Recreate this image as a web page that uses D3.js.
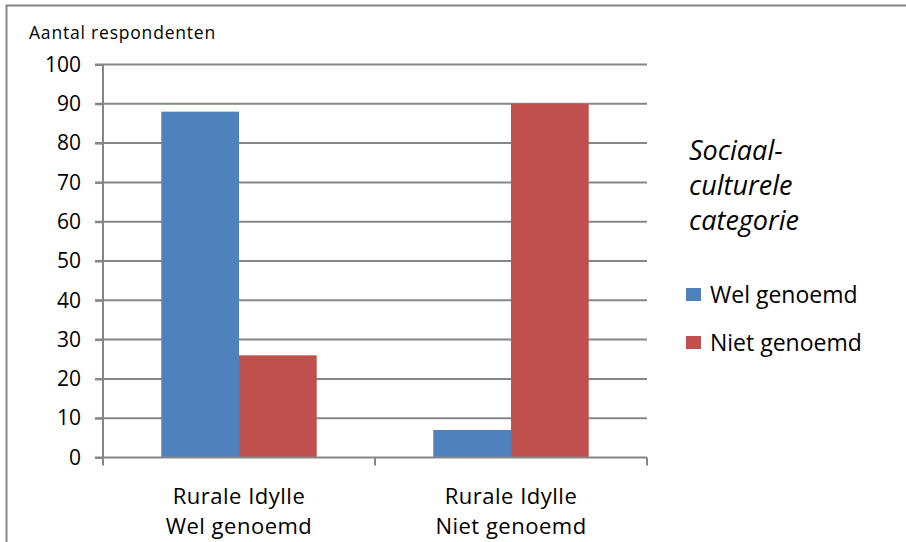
<!DOCTYPE html>
<html>
<head>
<meta charset="utf-8">
<script src="https://cdn.jsdelivr.net/npm/d3@7"></script>
<style>
  body { margin: 0; background: #fff; }
  svg { display: block; font-family: "Open Sans", "Liberation Sans", sans-serif; }
</style>
</head>
<body>
<svg width="906" height="542"></svg>
<script>
var categories = [["Rurale Idylle", "Wel genoemd"], ["Rurale Idylle", "Niet genoemd"]];
var seriesNames = ["Wel genoemd", "Niet genoemd"];
var seriesColors = ["#4f81bd", "#c0504d"];
var wel = [88, 7];
var niet = [26, 90];
var yTicks = [0, 10, 20, 30, 40, 50, 60, 70, 80, 90, 100];
var legendTitle = ["Sociaal-", "culturele", "categorie"];
var yTitle = "Aantal respondenten";

var svg = d3.select("svg");

var values = [wel, niet];
var data = categories.map(function(c, i) {
  return { cat: i, vals: values.map(function(v, s) { return { s: s, v: v[i] }; }) };
});

// outer frame
svg.append("rect")
    .attr("x", 6.5).attr("y", 5.5)
    .attr("width", 920).attr("height", 560)
    .attr("fill", "none")
    .attr("stroke", "#868686")
    .attr("stroke-width", 2);

var plotL = 103, plotR = 647, plotT = 64.5, plotB = 457.5;

var x0 = d3.scaleBand().domain(d3.range(categories.length)).range([plotL, plotR]);
var y = d3.scaleLinear().domain([0, 100]).range([plotB, plotT]);

// gap width 150% like the original
var bw = x0.bandwidth() / (seriesNames.length + 1.5);
var x1 = d3.scaleBand().domain(d3.range(seriesNames.length))
    .range([bw * 0.75, bw * 0.75 + bw * seriesNames.length]);

// gridlines
svg.append("g")
  .selectAll("line").data(yTicks.filter(function(d) { return d > 0; }))
  .enter().append("line")
    .attr("x1", plotL - 8).attr("x2", plotR)
    .attr("y1", function(d) { return y(d); })
    .attr("y2", function(d) { return y(d); })
    .attr("stroke", "#868686")
    .attr("stroke-width", 2);

// bars
svg.append("g")
  .selectAll("g").data(data)
  .enter().append("g")
    .attr("transform", function(d) { return "translate(" + x0(d.cat) + ",0)"; })
  .selectAll("rect").data(function(d) { return d.vals; })
  .enter().append("rect")
    .attr("x", function(d) { return x1(d.s); })
    .attr("width", x1.bandwidth())
    .attr("y", function(d) { return y(d.v); })
    .attr("height", function(d) { return y(0) - y(d.v); })
    .attr("fill", function(d) { return seriesColors[d.s]; });

// y axis
var yAxis = svg.append("g")
    .attr("transform", "translate(" + plotL + ",0)")
    .call(d3.axisLeft(y).tickValues(yTicks).tickSize(8).tickPadding(14));
yAxis.select(".domain").attr("stroke", "#868686").attr("stroke-width", 2)
    .attr("d", "M0," + plotT + "V" + plotB);
yAxis.selectAll(".tick line").attr("stroke", "#868686").attr("stroke-width", 2);
yAxis.selectAll(".tick text")
    .attr("font-size", 21)
    .attr("font-family", "'Open Sans', sans-serif")
    .attr("fill", "#000");

// x axis
var xAxis = svg.append("g").attr("transform", "translate(0," + plotB + ")");
xAxis.append("line")
    .attr("x1", plotL - 8).attr("x2", plotR)
    .attr("stroke", "#868686").attr("stroke-width", 2);
xAxis.selectAll(".xt").data([plotL, plotL + x0.bandwidth(), plotR])
  .enter().append("line")
    .attr("x1", function(d) { return d; }).attr("x2", function(d) { return d; })
    .attr("y1", 0).attr("y2", 8)
    .attr("stroke", "#868686").attr("stroke-width", 2);

var xl = xAxis.selectAll(".xl").data(categories)
  .enter().append("text")
    .attr("text-anchor", "middle")
    .attr("font-size", 22)
    .attr("letter-spacing", 0.5)
    .attr("transform", function(d, i) { return "translate(" + (x0(i) + x0.bandwidth() / 2) + ",0)"; });
xl.selectAll("tspan").data(function(d) { return d; })
  .enter().append("tspan")
    .attr("x", 0)
    .attr("y", function(d, i) { return 46 + i * 30; })
    .text(function(d) { return d; });

// y title
svg.append("text")
    .attr("x", 29).attr("y", 39)
    .attr("font-size", 17.5)
    .attr("letter-spacing", 0.8)
    .text(yTitle);

// legend
var lg = svg.append("g");
lg.selectAll(".lt").data(legendTitle)
  .enter().append("text")
    .attr("x", 689)
    .attr("y", function(d, i) { return 160 + i * 35; })
    .attr("font-size", 27)
    .attr("font-style", "italic")
    .text(function(d) { return d; });

var items = lg.selectAll(".li").data(seriesNames)
  .enter().append("g")
    .attr("transform", function(d, i) { return "translate(686," + (288 + i * 48) + ")"; });
items.append("rect")
    .attr("width", 15).attr("height", 13)
    .attr("fill", function(d, i) { return seriesColors[i]; });
items.append("text")
    .attr("x", 24).attr("y", 15)
    .attr("font-size", 23)
    .text(function(d) { return d; });
</script>
</body>
</html>
